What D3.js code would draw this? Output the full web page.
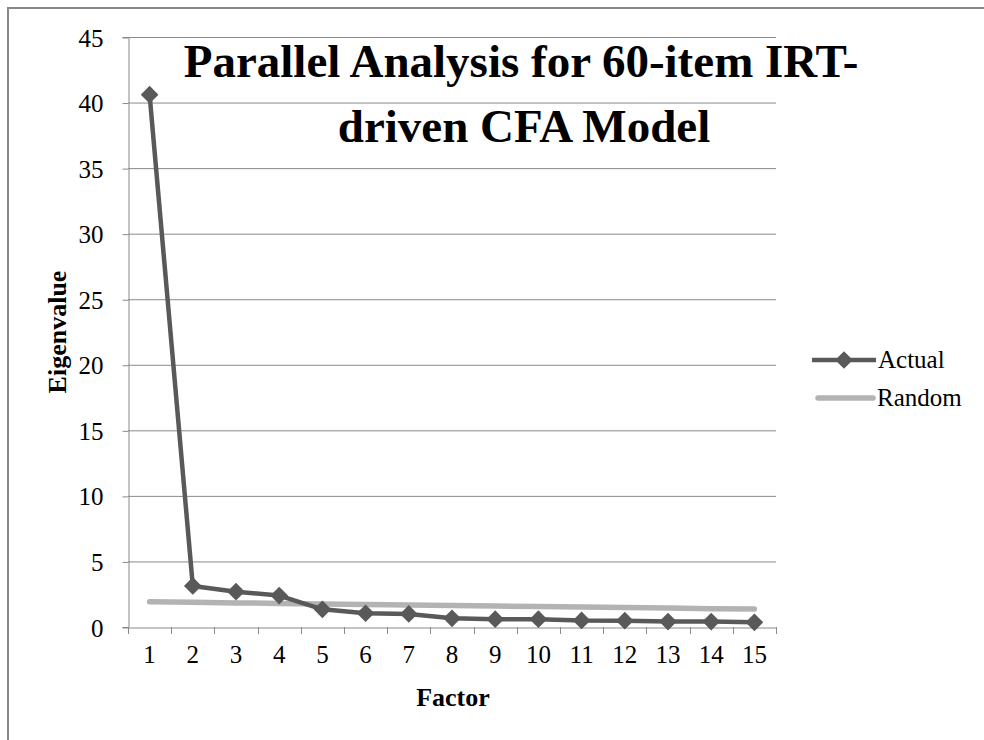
<!DOCTYPE html>
<html><head><meta charset="utf-8">
<script src="https://cdn.jsdelivr.net/npm/d3@7"></script>
<style>body{margin:0;background:#fff}svg{display:block}</style>
</head><body>
<script>
const factors = [1,2,3,4,5,6,7,8,9,10,11,12,13,14,15];
const actual = [40.6,3.13,2.69,2.4,1.35,1.05,1.0,0.66,0.6,0.6,0.5,0.48,0.41,0.41,0.36];
const random = [1.92,1.88,1.84,1.80,1.76,1.72,1.68,1.64,1.60,1.56,1.52,1.48,1.44,1.40,1.37];
const yTicks = [0,5,10,15,20,25,30,35,40,45];
const titleLines = ["Parallel Analysis for 60-item IRT-","driven CFA Model"];
const seriesNames = ["Actual","Random"];

const W=984,H=740;
const svg=d3.select("body").append("svg").attr("width",W).attr("height",H);
const font='"Liberation Serif","Times New Roman",serif';
svg.append("rect").attr("x",8).attr("y",8).attr("width",1000).attr("height",1000)
  .attr("fill","none").attr("stroke","#888").attr("stroke-width",2);

const L=128,R=776,T=37,B=627;
const x=d3.scaleBand().domain(factors).range([L,R]);
const y=d3.scaleLinear().domain([0,45]).range([B,T]);
const grid="#8a8a8a";

svg.append("g").selectAll("line").data(yTicks.filter(d=>d>0)).join("line")
  .attr("x1",L).attr("x2",R).attr("y1",d=>y(d)+0.5).attr("y2",d=>y(d)+0.5)
  .attr("stroke",grid).attr("stroke-width",1);

const ya=svg.append("g").attr("transform",`translate(${L+0.5},0)`)
  .call(d3.axisLeft(y).tickValues(yTicks).tickSize(6).tickPadding(19));
ya.select(".domain").attr("stroke",grid);
ya.selectAll(".tick line").attr("stroke",grid).attr("transform","translate(0,0.5)");
ya.selectAll("text").attr("font-family",font).attr("font-size",25).attr("fill","#000").attr("dy","0.36em");

const xa=svg.append("g").attr("transform",`translate(0,${B+0.5})`)
  .call(d3.axisBottom(x).tickSize(0).tickPadding(18));
xa.select(".domain").attr("stroke",grid);
xa.selectAll("text").attr("font-family",font).attr("font-size",25).attr("fill","#000");
svg.append("g").selectAll("line").data(d3.range(factors.length+1)).join("line")
  .attr("x1",i=>Math.round(L+i*x.step())+0.5).attr("x2",i=>Math.round(L+i*x.step())+0.5)
  .attr("y1",B).attr("y2",B+7).attr("stroke",grid);

const cx=d=>x(d)+x.bandwidth()/2;
const line=d3.line().x((d,i)=>cx(factors[i])).y(d=>y(d));

svg.append("path").datum(random).attr("d",line).attr("fill","none")
  .attr("stroke","#b3b3b3").attr("stroke-width",5.5).attr("stroke-linecap","round");
svg.append("path").datum(actual).attr("d",line).attr("fill","none")
  .attr("stroke","#595959").attr("stroke-width",4.5).attr("stroke-linejoin","round");
const diamond=d3.symbol().type(d3.symbolDiamond2).size(200);
svg.append("g").selectAll("path").data(actual).join("path")
  .attr("transform",(d,i)=>`translate(${cx(factors[i])},${y(d)})`)
  .attr("d",diamond).attr("fill","#595959");

svg.append("g").selectAll("text").data(titleLines).join("text")
  .attr("x",(d,i)=>i===0?521:524).attr("y",(d,i)=>77+i*65).attr("text-anchor","middle")
  .attr("font-family",font).attr("font-weight","bold").attr("font-size",47).text(d=>d);

svg.append("text").attr("transform","translate(66,332) rotate(-90)").attr("text-anchor","middle")
  .attr("font-family",font).attr("font-weight","bold").attr("font-size",26).text("Eigenvalue");
svg.append("text").attr("x",453).attr("y",706).attr("text-anchor","middle")
  .attr("font-family",font).attr("font-weight","bold").attr("font-size",26).text("Factor");

const lg=svg.append("g");
lg.append("line").attr("x1",812).attr("x2",876).attr("y1",360).attr("y2",360)
  .attr("stroke","#595959").attr("stroke-width",4.5);
lg.append("path").attr("d",diamond).attr("transform","translate(844,360)").attr("fill","#595959");
lg.append("text").attr("x",878).attr("y",368).attr("font-family",font).attr("font-size",25).text(seriesNames[0]);
lg.append("line").attr("x1",818).attr("x2",873).attr("y1",398).attr("y2",398)
  .attr("stroke","#b3b3b3").attr("stroke-width",5.5).attr("stroke-linecap","round");
lg.append("text").attr("x",877).attr("y",406).attr("font-family",font).attr("font-size",25).text(seriesNames[1]);
</script>
</body></html>
